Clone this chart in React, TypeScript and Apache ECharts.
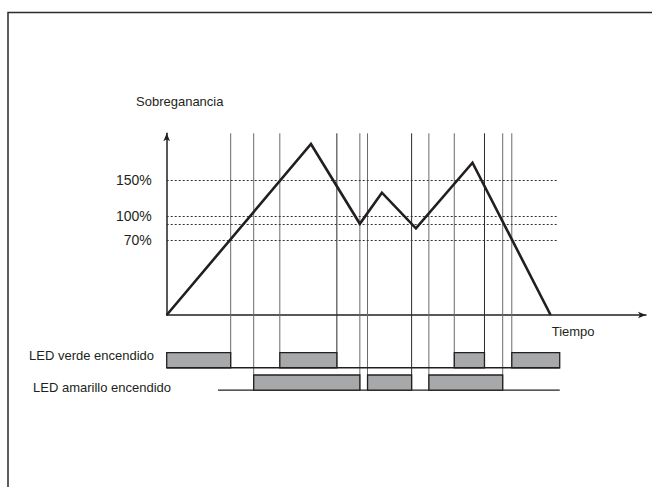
import React, { useEffect, useRef } from "react";
import * as echarts from "echarts";

// Waveform (time units 0..100 along the x axis, level units 0..100 along the y axis)
const waveTime = [0, 30.1, 40.3, 44.9, 52.0, 63.8, 80.1];
const waveLevel = [0, 94.1, 50.2, 67.3, 47.7, 83.8, 0];

// Threshold lines
const thresholdLabels = ["150%", "100%", "", "70%"];
const thresholdLevels = [74.3, 54.6, 50.2, 41.4];
const thresholdEnd = 81.6;

// Switching instants (vertical guide lines) and the LED row each belongs to
const switchTimes = [13.35, 18.15, 23.6, 35.5, 40.3, 41.9, 51.1, 54.7, 60.0, 66.3, 70.1, 72.0];
const switchRow = ["g", "y", "g", "g", "y", "y", "y", "y", "g", "g", "y", "g"];
const switchDark = [0, 0, 0, 1, 0, 0, 1, 0, 0, 1, 0, 0];

// LED on-intervals
const greenOnStart = [0, 23.6, 60.0, 72.0];
const greenOnEnd = [13.35, 35.5, 66.3, 82.0];
const yellowOnStart = [18.15, 41.9, 54.7];
const yellowOnEnd = [40.3, 51.1, 70.1];
const yellowBaseStart = 10.7;
const rowEnd = 82.0;

// LED row levels (same units as the y axis, below zero)
const greenTop = -20.7;
const greenBottom = -29.0;
const yellowTop = -33.0;
const yellowBottom = -41.3;
const guideTop = 100;

const FONT = "'Liberation Sans', Arial, Helvetica, sans-serif";
const INK = "#231f20";

export default function App() {
  const ref = useRef<HTMLDivElement>(null);
  useEffect(() => {
    if (!ref.current) return;
    const chart = echarts.init(ref.current, null, { renderer: "svg" });

    const waveData = waveTime.map((t, i) => [t, waveLevel[i]]);
    const thresholdMark = thresholdLevels.map((lv, i) => [
      {
        coord: [0, lv],
        name: thresholdLabels[i],
        label: { show: thresholdLabels[i] !== "" },
      },
      { coord: [thresholdEnd, lv] },
    ]);
    const guideData = switchTimes.map((t, i) => [
      t,
      switchRow[i] === "g" ? greenBottom : yellowBottom,
      switchDark[i],
    ]);
    const barData = [
      ...greenOnStart.map((s, i) => [s, greenOnEnd[i], greenTop, greenBottom]),
      ...yellowOnStart.map((s, i) => [s, yellowOnEnd[i], yellowTop, yellowBottom]),
    ];

    const option: any = {
      animation: false,
      backgroundColor: "#ffffff",
      grid: [
        { left: 166.7, right: 6, top: 133.3, bottom: 172 },
        { left: 166.7, right: 6, top: 133.3, bottom: 81.1 },
      ],
      xAxis: [
        {
          type: "value",
          gridIndex: 0,
          min: 0,
          max: 100,
          axisLine: {
            show: true,
            onZero: false,
            symbol: ["none", "arrow"],
            symbolSize: [5, 8],
            lineStyle: { color: INK, width: 1.5 },
          },
          axisTick: { show: false },
          axisLabel: { show: false },
          splitLine: { show: false },
        },
        { type: "value", gridIndex: 1, min: 0, max: 100, show: false },
      ],
      yAxis: [
        {
          type: "value",
          gridIndex: 0,
          min: 0,
          max: 100,
          axisLine: {
            show: true,
            onZero: false,
            symbol: ["none", "arrow"],
            symbolSize: [5, 8],
            lineStyle: { color: INK, width: 1.5 },
          },
          axisTick: { show: false },
          axisLabel: { show: false },
          splitLine: { show: false },
        },
        { type: "value", gridIndex: 1, min: -50, max: 100, show: false },
      ],
      series: [
        {
          type: "custom",
          name: "guides",
          xAxisIndex: 1,
          yAxisIndex: 1,
          z: 1,
          silent: true,
          data: guideData,
          renderItem: (params: any, api: any) => {
            const x = api.value(0);
            const bottom = api.value(1);
            const dark = api.value(2);
            const p1 = api.coord([x, guideTop]);
            const p2 = api.coord([x, bottom]);
            return {
              type: "line",
              shape: { x1: p1[0], y1: p1[1], x2: p2[0], y2: p2[1] },
              style: { stroke: dark ? "#2a2a2a" : "#6a6a6a", lineWidth: 1 },
            };
          },
        },
        {
          type: "line",
          name: "greenBase",
          xAxisIndex: 1,
          yAxisIndex: 1,
          z: 2,
          silent: true,
          symbol: "none",
          data: [
            [0, greenBottom],
            [rowEnd, greenBottom],
          ],
          lineStyle: { color: INK, width: 1.3 },
        },
        {
          type: "line",
          name: "yellowBase",
          xAxisIndex: 1,
          yAxisIndex: 1,
          z: 2,
          silent: true,
          symbol: "none",
          data: [
            [yellowBaseStart, yellowBottom],
            [rowEnd, yellowBottom],
          ],
          lineStyle: { color: INK, width: 1.3 },
        },
        {
          type: "custom",
          name: "leds",
          xAxisIndex: 1,
          yAxisIndex: 1,
          z: 3,
          silent: true,
          data: barData,
          renderItem: (params: any, api: any) => {
            const a = api.coord([api.value(0), api.value(2)]);
            const b = api.coord([api.value(1), api.value(3)]);
            return {
              type: "rect",
              shape: { x: a[0], y: a[1], width: b[0] - a[0], height: b[1] - a[1] },
              style: { fill: "#a7a8aa", stroke: INK, lineWidth: 1.3 },
            };
          },
        },
        {
          type: "line",
          name: "Sobreganancia",
          xAxisIndex: 0,
          yAxisIndex: 0,
          z: 5,
          silent: true,
          symbol: "none",
          data: waveData,
          lineStyle: { color: INK, width: 2.6, join: "miter" },
          markLine: {
            silent: true,
            symbol: ["none", "none"],
            z: 4,
            lineStyle: { color: "#333333", width: 1, type: [2, 2] },
            label: {
              show: true,
              position: "start",
              distance: 15,
              formatter: "{b}",
              color: INK,
              fontSize: 14,
              fontFamily: FONT,
            },
            emphasis: { disabled: true },
            data: thresholdMark,
          },
        },
      ],
      graphic: [
        {
          type: "rect",
          silent: true,
          shape: { x: 8, y: 12.5, width: 700, height: 520 },
          style: { fill: "none", stroke: "#2a2a2a", lineWidth: 1.5 },
        },
        {
          type: "text",
          x: 136,
          y: 101.7,
          style: {
            text: "Sobreganancia",
            fill: INK,
            font: `13px ${FONT}`,
            align: "left",
            verticalAlign: "middle",
          },
        },
        {
          type: "text",
          x: 551.7,
          y: 331.7,
          style: {
            text: "Tiempo",
            fill: INK,
            font: `13px ${FONT}`,
            align: "left",
            verticalAlign: "middle",
          },
        },
        {
          type: "text",
          x: 29,
          y: 355.5,
          style: {
            text: "LED verde encendido",
            fill: INK,
            font: `13px ${FONT}`,
            align: "left",
            verticalAlign: "middle",
          },
        },
        {
          type: "text",
          x: 33,
          y: 387.5,
          style: {
            text: "LED amarillo encendido",
            fill: INK,
            font: `13px ${FONT}`,
            align: "left",
            verticalAlign: "middle",
          },
        },
      ],
    };

    chart.setOption(option);
    return () => chart.dispose();
  }, []);

  return (
    <div
      ref={ref}
      style={{
        position: "fixed",
        left: 0,
        top: 0,
        width: 652,
        height: 487,
        background: "#ffffff",
      }}
    />
  );
}
